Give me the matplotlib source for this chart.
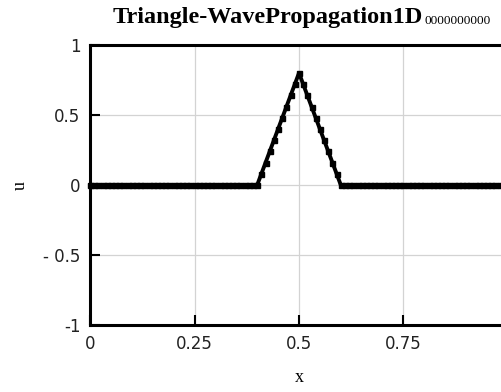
import matplotlib
matplotlib.use("Agg")
import matplotlib.pyplot as plt

plt.rcParams['font.family'] = ['Liberation Serif', 'DejaVu Serif']

# grid x = 0, 0.01, ..., 1.0
x = [i / 100 for i in range(101)]
u_left = [0.0] * 41
u_peak = [0.08, 0.16, 0.24, 0.32, 0.40, 0.48, 0.56, 0.64, 0.72, 0.80,
          0.72, 0.64, 0.56, 0.48, 0.40, 0.32, 0.24, 0.16, 0.08]
u_right = [0.0] * 41
u = u_left + u_peak + u_right

xticks = [0, 0.25, 0.5, 0.75, 1]
xtick_labels = ["0", "0.25", "0.5", "0.75", "1"]
yticks = [-1, -0.5, 0, 0.5, 1]
ytick_labels = ["-1", "- 0.5", "0", "0.5", "1"]

W, H = 502, 392
fig = plt.figure(figsize=(W / 100, H / 100), dpi=100)
ax = fig.add_axes([90 / W, 1 - 325 / H, 418 / W, 280 / H])

ax.plot(x, u, color="black", lw=2.8, marker="s", ms=3.6, clip_on=False)

ax.set_xlim(0, 1)
ax.set_ylim(-1, 1)
ax.set_xticks(xticks)
ax.set_xticklabels(xtick_labels)
ax.set_yticks(yticks)
ax.set_yticklabels(ytick_labels)
ax.grid(True, color="#d3d3d3", lw=0.9)
ax.tick_params(direction="in", length=7, width=1.5, labelsize=12, pad=7,
               colors="black", labelcolor="#222222")
for lab in ax.get_xticklabels() + ax.get_yticklabels():
    lab.set_family("DejaVu Sans")
for s in ax.spines.values():
    s.set_linewidth(2.2)

ax.set_xlabel("x", fontsize=13, labelpad=12)
ax.set_ylabel("u", fontsize=13, labelpad=10)

fig.text(423 / W, 1 - 23 / H, "Triangle-WavePropagation1D",
         ha="right", va="baseline", fontsize=17.5, fontweight="bold")
fig.text(425 / W, 1 - 24 / H, "0000000000",
         ha="left", va="baseline", fontsize=9.5)

fig.savefig("out.png", dpi=100)
